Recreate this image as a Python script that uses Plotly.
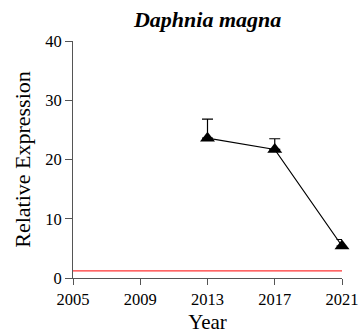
import plotly.graph_objects as go

years = [2013, 2017, 2021]
expression = [23.6, 21.7, 5.4]
err_upper = [3.2, 1.8, 1.1]
ref_x = [2005, 2021]
ref_y = [1.2, 1.2]
x_ticks = [2005, 2009, 2013, 2017, 2021]
y_ticks = [0, 10, 20, 30, 40]

font = "Liberation Serif, Times New Roman, serif"
fig = go.Figure()
fig.add_trace(go.Scatter(x=ref_x, y=ref_y, mode="lines",
                         line=dict(color="#ff3333", width=1.2), showlegend=False, hoverinfo="skip"))
fig.add_trace(go.Scatter(
    x=years, y=expression, mode="lines+markers",
    line=dict(color="black", width=1.2),
    marker=dict(symbol="triangle-up", size=13, color="black"),
    error_y=dict(type="data", array=err_upper, arrayminus=[0, 0, 0], symmetric=False,
                 color="black", thickness=1.2, width=5.5),
    cliponaxis=False, showlegend=False))

fig.update_layout(
    width=361, height=335,
    margin=dict(l=73, r=19, t=41, b=57, autoexpand=False),
    plot_bgcolor="white", paper_bgcolor="white",
    font=dict(family=font, color="black"),
    title=dict(text="<b><i>Daphnia magna</i></b>", x=0.575, xanchor="center", y=0.943, yanchor="middle",
               font=dict(family=font, size=22, color="black")),
    xaxis=dict(range=[2005, 2021], tickvals=x_ticks, ticks="outside", ticklen=6, tickcolor="#555",
               showline=True, linecolor="#555", linewidth=1, showgrid=False, zeroline=False,
               automargin=False,
               tickfont=dict(size=16.5, family=font, color="black"),
               title=dict(text="Year", font=dict(size=21, family=font, color="black"), standoff=6)),
    yaxis=dict(range=[0, 40], tickvals=y_ticks, ticks="outside", ticklen=7, tickcolor="#555",
               showline=True, linecolor="#555", linewidth=1, showgrid=False, zeroline=False,
               automargin=False,
               tickfont=dict(size=16.5, family=font, color="black"),
               title=dict(text="Relative Expression", font=dict(size=22, family=font, color="black"), standoff=8)),
)
fig.write_html("out.html")
